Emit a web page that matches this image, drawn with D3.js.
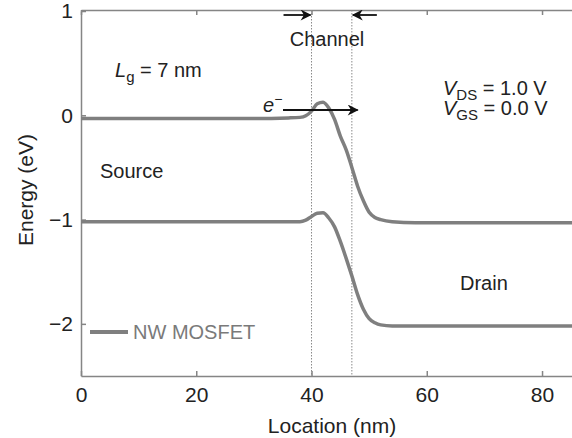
<!DOCTYPE html>
<html>
<head>
<meta charset="utf-8">
<script src="https://cdn.jsdelivr.net/npm/d3@7"></script>
<style>
  body { margin: 0; background: #fff; }
  text { font-family: "Liberation Sans", Arial, sans-serif; fill: #222; }
</style>
</head>
<body id="viz">
<script>
// Band diagram data
var location_nm = [0, 10, 20, 30, 36, 38, 39, 40, 41, 42, 43, 44, 45, 46, 47, 48, 49, 50, 51, 52, 54, 58, 65, 75, 86]
var conduction = [-0.03, -0.03, -0.03, -0.03, -0.025, -0.02, -0.005, 0.04, 0.11, 0.125, 0.07, -0.04, -0.2, -0.33, -0.5, -0.68, -0.82, -0.93, -0.98, -1.0, -1.02, -1.03, -1.03, -1.03, -1.03]
var valence = [-1.02, -1.02, -1.02, -1.02, -1.02, -1.02, -1.005, -0.97, -0.94, -0.935, -0.985, -1.07, -1.21, -1.37, -1.54, -1.72, -1.86, -1.95, -1.99, -2.01, -2.02, -2.02, -2.02, -2.02, -2.02]
var channel_edges = [40, 47]
var x_ticks = [0, 20, 40, 60, 80]
var y_ticks = [1, 0, -1, -2]

// Layout
svg_width = 572
svg_height = 438
plot_left = 81
plot_top = 10
plot_bottom = 376
curve_color = "#7f7f7f"
frame_color = "#858585"

svg = d3.select("body#viz")
  .append("svg")
  .attr("width", svg_width)
  .attr("height", svg_height)

var x = d3.scaleLinear().domain([0, 85.2]).range([plot_left, 572])
var y = d3.scaleLinear().domain([-2.5, 1]).range([plot_bottom, plot_top + 1])

// Arrow head marker
svg.append("defs").append("marker")
  .attr("id", "head")
  .attr("viewBox", "0 0 10 10")
  .attr("refX", 9).attr("refY", 5)
  .attr("markerUnits", "userSpaceOnUse")
  .attr("markerWidth", 14).attr("markerHeight", 11)
  .attr("orient", "auto")
  .append("path")
    .attr("d", "M0,0 L10,5 L0,10 L3,5 Z")
    .attr("fill", "#111")

// Axes (ticks point inward)
var bottom = svg.append("g")
  .attr("transform", "translate(0," + plot_bottom + ")")
  .call(d3.axisBottom(x).tickValues(x_ticks).tickSize(-5).tickSizeOuter(0).tickPadding(11))
var top_axis = svg.append("g")
  .attr("transform", "translate(0," + plot_top + ")")
  .call(d3.axisTop(x).tickValues(x_ticks).tickSize(-5).tickSizeOuter(0).tickFormat(""))
var left = svg.append("g")
  .attr("transform", "translate(" + plot_left + ",0)")
  .call(d3.axisLeft(y).tickValues(y_ticks).tickSize(-5).tickSizeOuter(0).tickPadding(8)
    .tickFormat(function(d) { return d < 0 ? "\u2212" + (-d) : d }))

;[bottom, top_axis, left].forEach(function(a) {
  a.selectAll("path, line").attr("stroke", frame_color).attr("stroke-width", 1.5)
  a.selectAll("text").style("font-size", "21px").attr("fill", "#222")
})

// Axis titles
svg.append("text")
  .attr("x", 332).attr("y", 433)
  .attr("text-anchor", "middle")
  .style("font-size", "21px")
  .text("Location (nm)")

svg.append("text")
  .attr("transform", "translate(33,190) rotate(-90)")
  .attr("text-anchor", "middle")
  .style("font-size", "21px")
  .text("Energy (eV)")

// Channel boundaries
svg.selectAll("line.edge")
  .data(channel_edges)
  .enter().append("line")
    .attr("class", "edge")
    .attr("x1", function(d) { return x(d) }).attr("x2", function(d) { return x(d) })
    .attr("y1", plot_top).attr("y2", plot_bottom)
    .attr("stroke", "#8a8a8a")
    .attr("stroke-width", 1)
    .attr("stroke-dasharray", "1.5,1.5")

// Band curves
var line = d3.line()
  .x(function(d) { return x(d[0]) })
  .y(function(d) { return y(d[1]) })
  .curve(d3.curveMonotoneX)

;[conduction, valence].forEach(function(band) {
  svg.append("path")
    .datum(location_nm.map(function(v, i) { return [v, band[i]] }))
    .attr("d", line)
    .attr("fill", "none")
    .attr("stroke", curve_color)
    .attr("stroke-width", 3.5)
})

// Channel arrows
svg.append("line")
  .attr("x1", x(channel_edges[0]) - 28).attr("x2", x(channel_edges[0]) - 1)
  .attr("y1", 15).attr("y2", 15)
  .attr("stroke", "#111").attr("stroke-width", 1.8)
  .attr("marker-end", "url(#head)")
svg.append("line")
  .attr("x1", x(channel_edges[1]) + 25).attr("x2", x(channel_edges[1]) + 1)
  .attr("y1", 15).attr("y2", 15)
  .attr("stroke", "#111").attr("stroke-width", 1.8)
  .attr("marker-end", "url(#head)")

svg.append("text")
  .attr("x", 327).attr("y", 46)
  .attr("text-anchor", "middle")
  .style("font-size", "20px")
  .text("Channel")

// Electron arrow
svg.append("line")
  .attr("x1", 283).attr("x2", x(48))
  .attr("y1", 110).attr("y2", 110)
  .attr("stroke", "#111").attr("stroke-width", 2)
  .attr("marker-end", "url(#head)")

var e = svg.append("text").attr("x", 263).attr("y", 112).style("font-size", "20px")
e.append("tspan").style("font-style", "italic").text("e")
e.append("tspan").attr("dy", -8).style("font-size", "14px").text("\u2212")

// Annotations
var lg = svg.append("text").attr("x", 115).attr("y", 77).style("font-size", "20px")
lg.append("tspan").style("font-style", "italic").text("L")
lg.append("tspan").attr("dy", 5).style("font-size", "15px").text("g")
lg.append("tspan").attr("dy", -5).text(" = 7 nm")

var vds = svg.append("text").attr("x", 443).attr("y", 95).style("font-size", "20px")
vds.append("tspan").style("font-style", "italic").text("V")
vds.append("tspan").attr("dy", 5).style("font-size", "15px").text("DS")
vds.append("tspan").attr("dy", -5).text(" = 1.0 V")

var vgs = svg.append("text").attr("x", 443).attr("y", 115).style("font-size", "20px")
vgs.append("tspan").style("font-style", "italic").text("V")
vgs.append("tspan").attr("dy", 5).style("font-size", "15px").text("GS")
vgs.append("tspan").attr("dy", -5).text(" = 0.0 V")

svg.append("text").attr("x", 100).attr("y", 178).style("font-size", "20px").text("Source")
svg.append("text").attr("x", 460).attr("y", 290).style("font-size", "20px").text("Drain")

// Legend
svg.append("line")
  .attr("x1", 90).attr("x2", 128)
  .attr("y1", 332).attr("y2", 332)
  .attr("stroke", curve_color).attr("stroke-width", 4)
svg.append("text")
  .attr("x", 133).attr("y", 339)
  .style("font-size", "20px")
  .style("fill", "#7a7a7a")
  .text("NW MOSFET")
</script>
</body>
</html>
